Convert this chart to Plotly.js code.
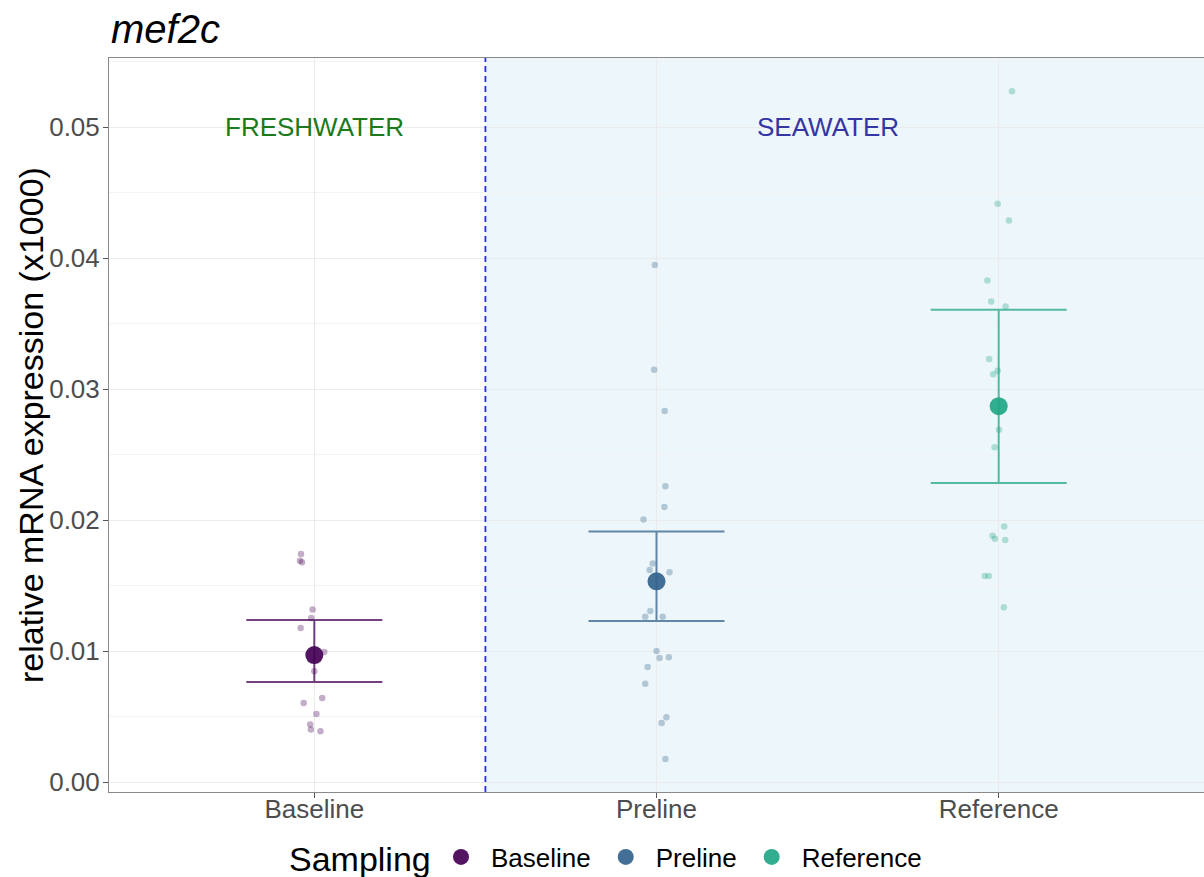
<!DOCTYPE html>
<html>
<head>
<meta charset="utf-8">
<script src="https://cdn.plot.ly/plotly-3.0.1.min.js"></script>
<style>
  html, body { margin: 0; padding: 0; background: #ffffff; }
  #chart { width: 1204px; height: 877px; }
</style>
</head>
<body>
<div id="chart"></div>
<script>
// ---------- data ----------
const categories = ['Baseline', 'Preline', 'Reference'];
const colors = ['#440154', '#33638D', '#21A685'];
const colorsRGB = ['68,1,84', '51,99,141', '33,166,133'];

// individual samples (relative mRNA expression x1000)
const baselineValues = [0.01740, 0.01690, 0.01677, 0.01318, 0.01252, 0.01176, 0.00992, 0.00845, 0.00641, 0.00603, 0.00519, 0.00440, 0.00402, 0.00387];
const baselineJitter = [-0.039, -0.042, -0.036, -0.005, -0.009, -0.040, 0.029, 0.000, 0.023, -0.031, 0.006, -0.012, -0.010, 0.018];

const prelineValues = [0.03947, 0.03148, 0.02832, 0.02257, 0.02099, 0.02005, 0.01669, 0.01618, 0.01601, 0.01305, 0.01262, 0.01262, 0.01000, 0.00947, 0.00952, 0.00878, 0.00751, 0.00494, 0.00450, 0.00176];
const prelineJitter = [-0.005, -0.007, 0.024, 0.026, 0.023, -0.038, -0.011, -0.020, 0.038, -0.018, -0.033, 0.018, 0.000, 0.009, 0.036, -0.026, -0.033, 0.029, 0.015, 0.026];

const referenceValues = [0.05274, 0.04415, 0.04287, 0.03829, 0.03669, 0.03631, 0.03230, 0.03140, 0.03112, 0.02690, 0.02556, 0.01951, 0.01880, 0.01858, 0.01847, 0.01572, 0.01572, 0.01335];
const referenceJitter = [0.039, -0.003, 0.030, -0.033, -0.022, 0.020, -0.028, -0.003, -0.016, 0.001, -0.012, 0.016, -0.018, -0.011, 0.019, -0.041, -0.029, 0.015];

// group summaries
const means = [0.00969, 0.01532, 0.02869];
const upper = [0.01237, 0.01913, 0.03606];
const lower = [0.00763, 0.01229, 0.02283];

// environment labels
const envLabels = ['FRESHWATER', 'SEAWATER'];
const envLabelX = [1, 2.5];
const envLabelY = 0.05;
const envColors = ['#1B7A1B', '#3535A3'];
const boundaryX = 1.5;

const yTitle = 'relative mRNA expression (x1000)';
const legendTitle = 'Sampling';

// ---------- build traces ----------
const FONT = 'Liberation Sans, Arial, Helvetica, sans-serif';
const groupValues = [baselineValues, prelineValues, referenceValues];
const groupJitter = [baselineJitter, prelineJitter, referenceJitter];

const traces = [];
categories.forEach((cat, i) => {
  traces.push({
    type: 'scatter', mode: 'markers',
    x: groupJitter[i].map(j => (i + 1) + j),
    y: groupValues[i],
    marker: { size: 6.5, color: 'rgba(' + colorsRGB[i] + ',0.32)', line: { width: 0 } },
    showlegend: false, hoverinfo: 'y', name: cat
  });
});
categories.forEach((cat, i) => {
  traces.push({
    type: 'scatter', mode: 'markers',
    x: [i + 1], y: [means[i]],
    name: cat,
    marker: { size: 18, color: 'rgba(' + colorsRGB[i] + ',0.92)', line: { width: 0 } },
    error_y: {
      type: 'data', symmetric: false,
      array: [upper[i] - means[i]],
      arrayminus: [means[i] - lower[i]],
      width: 68, thickness: 2,
      color: 'rgba(' + colorsRGB[i] + ',0.75)'
    },
    showlegend: true
  });
});

const annotations = envLabels.map((t, k) => ({
  x: envLabelX[k], y: envLabelY, xref: 'x', yref: 'y',
  text: t, showarrow: false,
  font: { family: FONT, size: 26, color: envColors[k] },
  xanchor: 'center', yanchor: 'middle'
}));
// y-axis title
annotations.push({
  xref: 'paper', yref: 'paper',
  x: (31 - 109) / 1095, y: 0.5,
  text: yTitle, textangle: -90, showarrow: false,
  font: { family: FONT, size: 34, color: '#000000' },
  xanchor: 'center', yanchor: 'middle'
});
// legend title
annotations.push({
  xref: 'paper', yref: 'paper',
  x: (433 - 109) / 1095, y: -(859 - 792) / 734,
  text: legendTitle, showarrow: false,
  font: { family: FONT, size: 34, color: '#000000' },
  xanchor: 'right', yanchor: 'middle'
});

const layout = {
  width: 1204, height: 877,
  margin: { l: 109, r: 0, t: 58, b: 85, autoexpand: false },
  paper_bgcolor: '#ffffff', plot_bgcolor: '#ffffff',
  font: { family: FONT, color: '#000000' },
  title: {
    text: 'mef2c',
    font: { family: FONT, size: 40, style: 'italic', color: '#000000' },
    x: 111 / 1204, xanchor: 'left', xref: 'container',
    y: 1 - 29 / 877, yanchor: 'middle', yref: 'container'
  },
  xaxis: {
    range: [0.4, 3.6],
    tickmode: 'array', tickvals: [1, 2, 3], ticktext: categories,
    showgrid: true, gridcolor: '#EBEBEB', gridwidth: 1,
    zeroline: false,
    showline: true, linecolor: '#8A8A8A', linewidth: 1, mirror: true,
    ticks: 'outside', ticklen: 5, tickcolor: '#555555', tickwidth: 1,
    ticklabelstandoff: -11,
    tickfont: { family: FONT, size: 26, color: '#4D4D4D' }
  },
  yaxis: {
    range: [-0.00076, 0.05527],
    tickmode: 'linear', tick0: 0, dtick: 0.01, tickformat: '.2f',
    showgrid: true, gridcolor: '#EBEBEB', gridwidth: 1,
    minor: { dtick: 0.005, showgrid: true, gridcolor: '#F3F3F3', gridwidth: 1 },
    zeroline: false,
    showline: true, linecolor: '#8A8A8A', linewidth: 1, mirror: true,
    ticks: 'outside', ticklen: 5, tickcolor: '#555555', tickwidth: 1,
    ticklabelstandoff: -2,
    tickfont: { family: FONT, size: 26, color: '#4D4D4D' }
  },
  shapes: [
    {
      type: 'rect', layer: 'below',
      xref: 'x', yref: 'paper', x0: boundaryX, x1: 3.6, y0: 0, y1: 1,
      fillcolor: 'rgba(173,216,230,0.22)', line: { width: 0 }
    },
    {
      type: 'line', layer: 'above',
      xref: 'x', yref: 'paper', x0: boundaryX, x1: boundaryX, y0: 0, y1: 1,
      line: { color: '#2B2BFF', width: 1.8, dash: '6px,4px' }
    }
  ],
  annotations: annotations,
  showlegend: true,
  legend: {
    orientation: 'h',
    x: (431 - 109) / 1095, xanchor: 'left',
    y: -(857 - 792) / 734, yanchor: 'middle',
    itemwidth: 50,
    font: { family: FONT, size: 26, color: '#000000' },
    bgcolor: 'rgba(0,0,0,0)', itemclick: false
  }
};

Plotly.newPlot('chart', traces, layout, { displayModeBar: false, staticPlot: true });
</script>
</body>
</html>
